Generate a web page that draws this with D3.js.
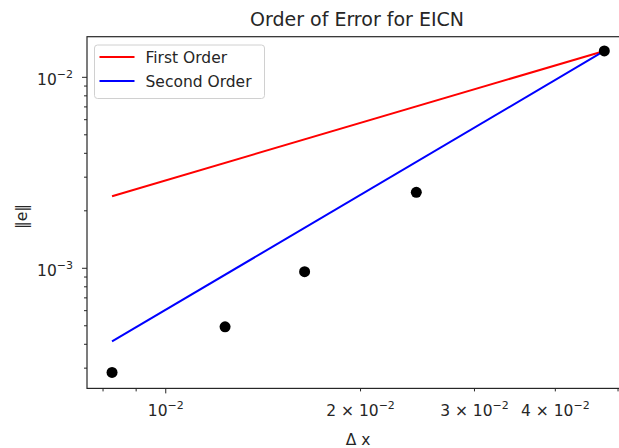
<!DOCTYPE html>
<html>
<head>
<meta charset="utf-8">
<script src="https://cdn.jsdelivr.net/npm/d3@7"></script>
<style>
  body { margin: 0; background: #fff; }
  text { font-family: "DejaVu Sans", sans-serif; fill: #262626; }
</style>
</head>
<body>
<div id="chart"></div>
<script>
// Measured error for each grid spacing
const dx = [0.00826, 0.01235, 0.01639, 0.02439, 0.04762];
const errors = [0.000285, 0.000494, 0.00096, 0.0025, 0.01374];

// Reference slopes, drawn between first and last grid spacing
const refX = [0.00826, 0.04762];
const firstOrder = [0.002385, 0.01374];
const secondOrder = [0.000414, 0.01374];

const xMajor = [0.01];
const xMinor = [0.008, 0.009, 0.02, 0.03, 0.04, 0.05];
const xLabelled = [
  { v: 0.01, m: "" },
  { v: 0.02, m: "2" },
  { v: 0.03, m: "3" },
  { v: 0.04, m: "4" }
];
const yMajor = [0.001, 0.01];
const yMinor = [0.0003, 0.0004, 0.0005, 0.0006, 0.0007, 0.0008, 0.0009,
                0.002, 0.003, 0.004, 0.005, 0.006, 0.007, 0.008, 0.009];

const width = 619, height = 448;
const plot = { left: 87, right: 629, top: 36.7, bottom: 388.4 };
const fs = 15.5, supFs = 11;

const svg = d3.select("#chart").append("svg")
    .attr("width", width)
    .attr("height", height);

const x = d3.scaleLog()
    .domain([0.007556, 0.05199])
    .range([plot.left, plot.right]);

const y = d3.scaleLog()
    .domain([0.000235, 0.01632])
    .range([plot.bottom, plot.top]);

// reference lines
const line = d3.line().x(d => x(d[0])).y(d => y(d[1]));

svg.append("path")
    .datum(refX.map((v, i) => [v, firstOrder[i]]))
    .attr("d", line)
    .attr("fill", "none")
    .attr("stroke", "#ff0000")
    .attr("stroke-width", 2);

svg.append("path")
    .datum(refX.map((v, i) => [v, secondOrder[i]]))
    .attr("d", line)
    .attr("fill", "none")
    .attr("stroke", "#0000ff")
    .attr("stroke-width", 2);

// data points
svg.selectAll("circle.pt")
    .data(dx.map((v, i) => [v, errors[i]]))
    .enter()
    .append("circle")
    .attr("class", "pt")
    .attr("cx", d => x(d[0]))
    .attr("cy", d => y(d[1]))
    .attr("r", 5.5)
    .attr("fill", "#000");

// frame
svg.append("rect")
    .attr("x", plot.left)
    .attr("y", plot.top)
    .attr("width", plot.right - plot.left)
    .attr("height", plot.bottom - plot.top)
    .attr("fill", "none")
    .attr("stroke", "#262626")
    .attr("stroke-width", 1.2);

// x ticks
const xAxis = svg.append("g");
xAxis.selectAll("line.maj")
    .data(xMajor).enter().append("line")
    .attr("x1", d => x(d)).attr("x2", d => x(d))
    .attr("y1", plot.bottom).attr("y2", plot.bottom + 5)
    .attr("stroke", "#262626");
xAxis.selectAll("line.min")
    .data(xMinor).enter().append("line")
    .attr("x1", d => x(d)).attr("x2", d => x(d))
    .attr("y1", plot.bottom).attr("y2", plot.bottom + 3)
    .attr("stroke", "#262626");

xLabelled.forEach(t => {
  const txt = xAxis.append("text")
      .attr("x", x(t.v))
      .attr("y", plot.bottom + 28)
      .attr("text-anchor", "middle")
      .style("font-size", fs + "px");
  txt.append("tspan").text(t.m ? t.m + " \u00d7 10" : "10");
  txt.append("tspan")
      .attr("dy", -7)
      .style("font-size", supFs + "px")
      .text("\u22122");
});

// y ticks
const yAxis = svg.append("g");
yAxis.selectAll("line.maj")
    .data(yMajor).enter().append("line")
    .attr("x1", plot.left - 5).attr("x2", plot.left)
    .attr("y1", d => y(d)).attr("y2", d => y(d))
    .attr("stroke", "#262626");
yAxis.selectAll("line.min")
    .data(yMinor).enter().append("line")
    .attr("x1", plot.left - 3).attr("x2", plot.left)
    .attr("y1", d => y(d)).attr("y2", d => y(d))
    .attr("stroke", "#262626");

yMajor.forEach(v => {
  const txt = yAxis.append("text")
      .attr("x", plot.left - 14)
      .attr("y", y(v) + 8)
      .attr("text-anchor", "end")
      .style("font-size", fs + "px");
  txt.append("tspan").text("10");
  txt.append("tspan")
      .attr("dy", -7)
      .style("font-size", supFs + "px")
      .text("\u2212" + Math.round(-Math.log10(v)));
});

// labels
svg.append("text")
    .attr("x", 357)
    .attr("y", 26)
    .attr("text-anchor", "middle")
    .style("font-size", "19px")
    .text("Order of Error for EICN");

svg.append("text")
    .attr("x", 358)
    .attr("y", 445)
    .attr("text-anchor", "middle")
    .style("font-size", fs + "px")
    .text("\u0394 x");

svg.append("text")
    .attr("transform", `translate(27, ${(plot.top + plot.bottom) / 2 + 4}) rotate(-90)`)
    .attr("text-anchor", "middle")
    .style("font-size", fs + "px")
    .text("\u2016e\u2016");

// legend
const legendItems = [
  { label: "First Order", color: "#ff0000" },
  { label: "Second Order", color: "#0000ff" }
];
const legend = svg.append("g").attr("transform", "translate(94.5, 45)");
legend.append("rect")
    .attr("width", 170)
    .attr("height", 53.5)
    .attr("rx", 3)
    .attr("fill", "#fff")
    .attr("fill-opacity", 0.8)
    .attr("stroke", "#d0d0d0");
legend.selectAll("g.item")
    .data(legendItems).enter()
    .append("g")
    .attr("transform", (d, i) => `translate(0, ${12 + i * 24})`)
    .each(function (d) {
      const g = d3.select(this);
      g.append("line")
          .attr("x1", 5).attr("x2", 40)
          .attr("stroke", d.color)
          .attr("stroke-width", 2);
      g.append("text")
          .attr("x", 51)
          .attr("y", 5.5)
          .style("font-size", fs + "px")
          .text(d.label);
    });
</script>
</body>
</html>
